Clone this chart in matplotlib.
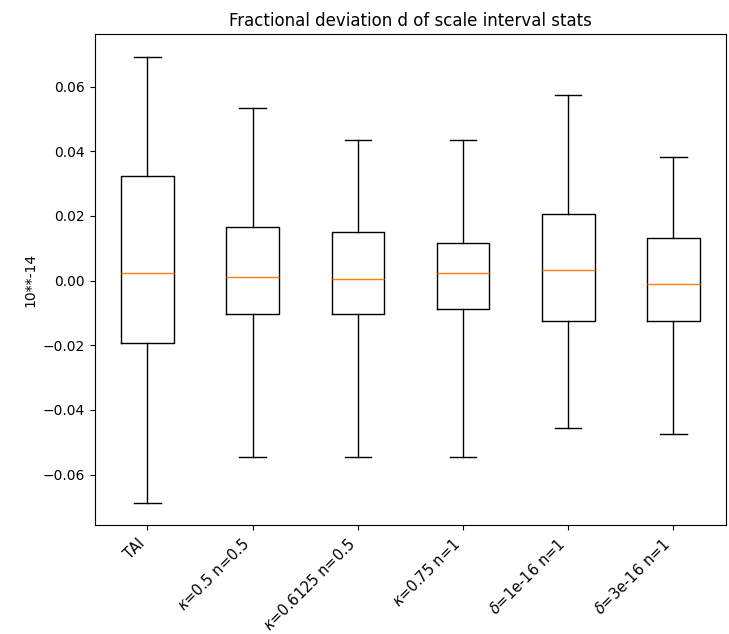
import matplotlib
matplotlib.use("Agg")
import matplotlib.pyplot as plt

labels = ['TAI', r'$\kappa$=0.5 n=0.5', r'$\kappa$=0.6125 n=0.5', r'$\kappa$=0.75 n=1',
          r'$\delta$=1e-16 n=1', r'$\delta$=3e-16 n=1']
whislo = [-0.0687, -0.0546, -0.0546, -0.0546, -0.0455, -0.0475]
q1 = [-0.0193, -0.0102, -0.0102, -0.0087, -0.0124, -0.0126]
med = [0.0024, 0.0012, 0.0004, 0.0024, 0.0034, -0.0011]
q3 = [0.0322, 0.0165, 0.0149, 0.0115, 0.0206, 0.0132]
whishi = [0.0693, 0.0533, 0.0434, 0.0434, 0.0574, 0.0383]

stats = []
for i in range(len(labels)):
    stats.append(dict(label=labels[i], whislo=whislo[i], q1=q1[i], med=med[i],
                      q3=q3[i], whishi=whishi[i], fliers=[]))

fig = plt.figure(figsize=(7.29, 6.34), dpi=100)
ax = fig.add_axes([0.13, 0.172, 0.866, 0.774])
ax.bxp(stats, showfliers=False)
ax.set_title('Fractional deviation d of scale interval stats')
ax.set_ylabel('10**-14')
plt.setp(ax.get_xticklabels(), rotation=45, ha='right', fontsize=10.5)
ax.tick_params(axis='x', pad=4.5)

fig.savefig('out.png', dpi=100)
